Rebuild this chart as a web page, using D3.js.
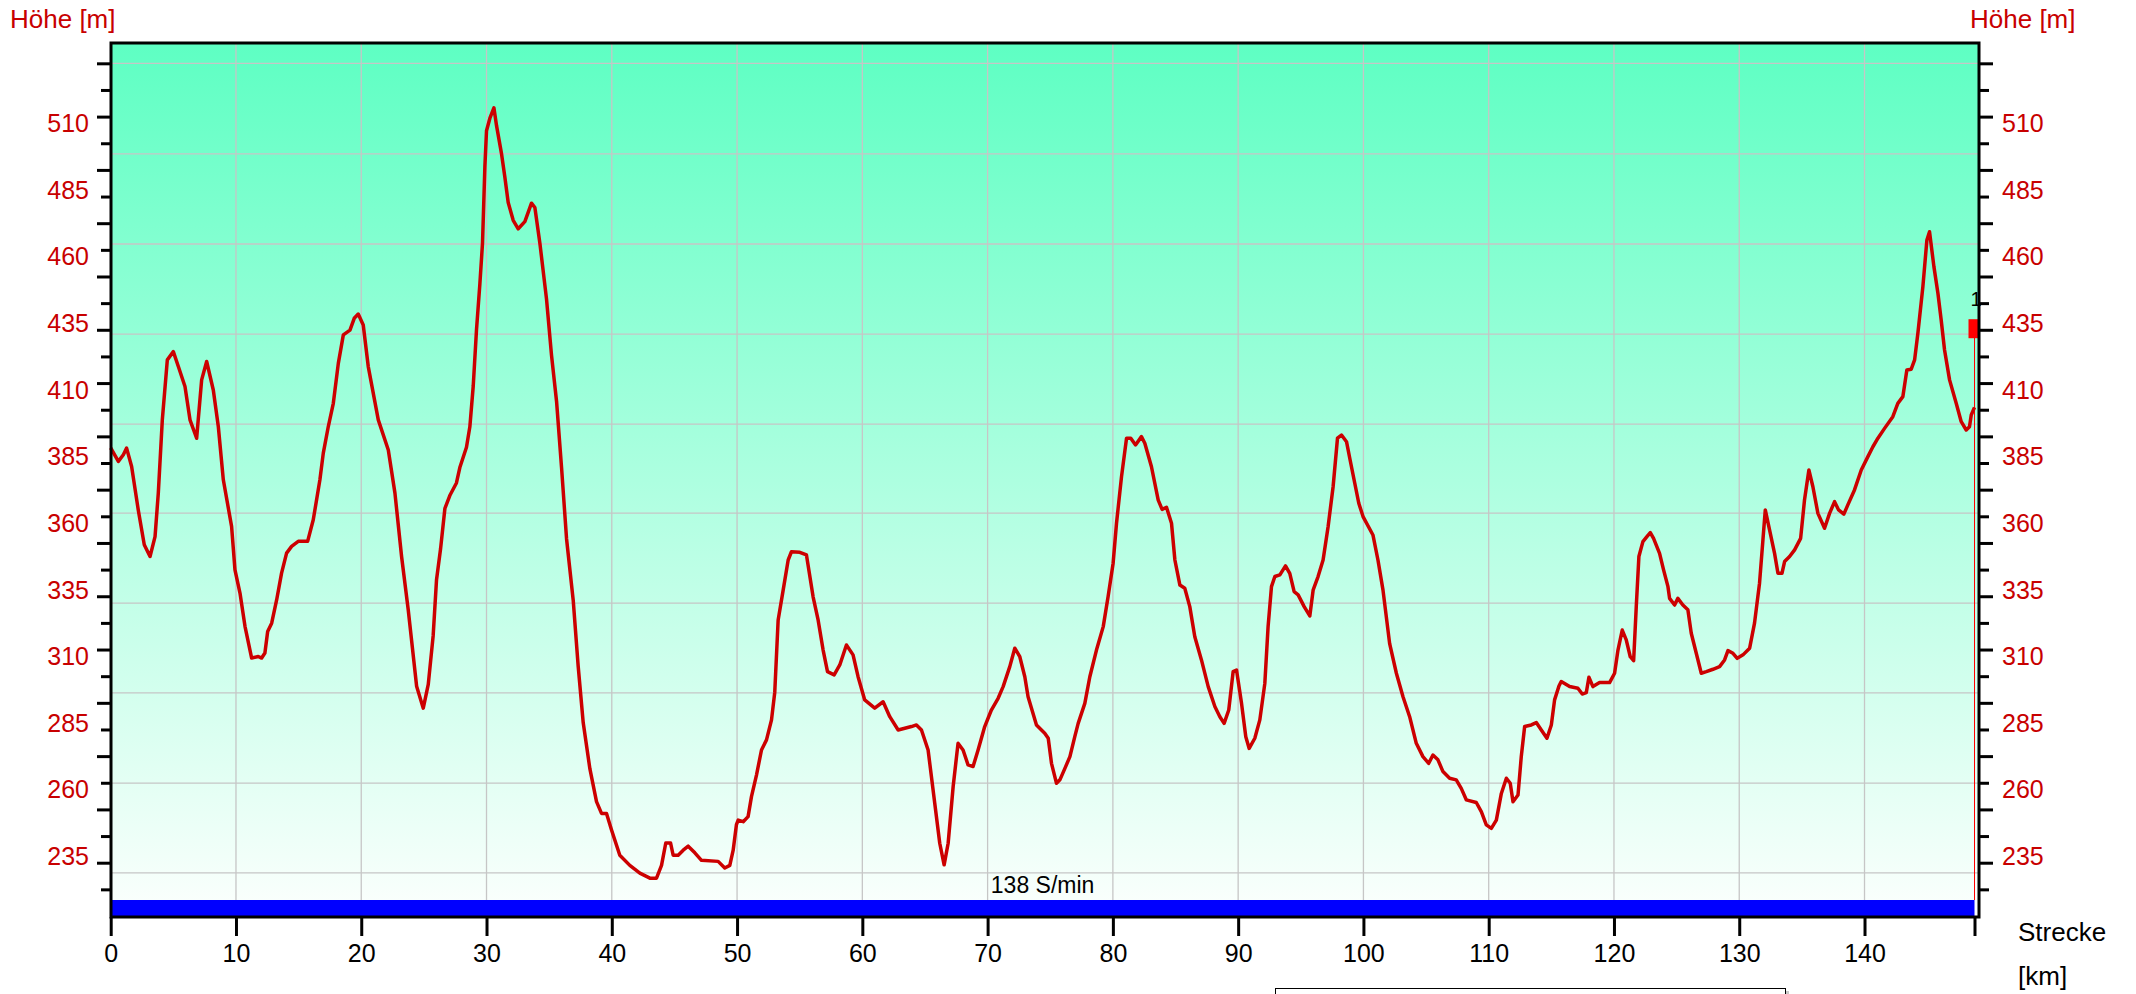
<!DOCTYPE html>
<html>
<head>
<meta charset="utf-8">
<script src="https://cdn.jsdelivr.net/npm/d3@7"></script>
<style>
  body { margin: 0; background: #fff; }
  svg { display: block; font-family: "Liberation Sans", Arial, Helvetica, sans-serif; }
</style>
</head>
<body>
<svg></svg>
<script>
// track profile: distance [km] and altitude [m]
var distKm = [
  0, 0.61, 1.01, 1.27, 1.67, 2.2, 2.68, 3.14, 3.54, 3.8, 4.12, 4.52, 5.0, 5.4, 5.93, 6.33, 6.86, 7.26, 7.66, 8.19,
  8.59, 8.99, 9.65, 9.92, 10.32, 10.72, 11.25, 11.78, 12.05, 12.31, 12.53, 12.85, 13.25, 13.64, 14.04, 14.44, 14.97, 15.72, 16.17, 16.7,
  16.97, 17.37, 17.77, 18.17, 18.57, 19.1, 19.44, 19.76, 20.16, 20.56, 21.36, 22.16, 22.69, 23.22, 23.75, 24.42, 24.95, 25.35, 25.74, 26.01,
  26.33, 26.68, 27.07, 27.6, 27.87, 28.4, 28.67, 28.94, 29.2, 29.47, 29.68, 29.87, 30.0, 30.27, 30.59, 30.8, 31.2, 31.46, 31.73, 32.13,
  32.53, 33.06, 33.59, 33.86, 34.26, 34.79, 35.19, 35.59, 35.99, 36.39, 36.92, 37.32, 37.72, 38.25, 38.78, 39.18, 39.58, 39.98, 40.64, 41.44,
  42.24, 43.04, 43.57, 43.97, 44.31, 44.69, 44.9, 45.3, 45.7, 46.1, 46.63, 47.16, 48.49, 49.02, 49.42, 49.69, 49.95, 50.09, 50.49, 50.88,
  51.15, 51.55, 51.95, 52.35, 52.75, 53.01, 53.28, 53.68, 54.08, 54.34, 55.01, 55.54, 56.07, 56.47, 56.87, 57.22, 57.75, 58.2, 58.73, 59.26,
  59.66, 60.19, 60.99, 61.66, 62.19, 62.86, 63.92, 64.32, 64.72, 65.25, 65.78, 66.18, 66.53, 66.85, 67.25, 67.64, 68.04, 68.44, 68.84, 69.24,
  69.77, 70.3, 70.84, 71.24, 71.77, 72.17, 72.57, 72.97, 73.23, 73.9, 74.56, 74.84, 75.1, 75.5, 75.77, 76.17, 76.57, 76.96, 77.23, 77.76,
  78.16, 78.69, 79.23, 79.62, 80.02, 80.29, 80.69, 81.09, 81.43, 81.81, 82.28, 82.55, 83.08, 83.62, 83.93, 84.28, 84.68, 84.95, 85.35, 85.74,
  86.14, 86.54, 87.07, 87.61, 88.14, 88.54, 88.88, 89.25, 89.6, 89.87, 90.27, 90.61, 90.88, 91.33, 91.73, 92.13, 92.39, 92.66, 92.93, 93.33,
  93.78, 94.12, 94.47, 94.79, 95.27, 95.72, 95.99, 96.38, 96.78, 97.18, 97.58, 97.93, 98.25, 98.65, 98.91, 99.31, 99.63, 99.97, 100.76, 101.16,
  101.56, 102.09, 102.63, 103.16, 103.69, 104.22, 104.75, 105.21, 105.55, 105.95, 106.35, 106.88, 107.41, 107.81, 108.21, 109.01, 109.41, 109.81, 110.21, 110.61,
  111.01, 111.41, 111.72, 111.94, 112.34, 112.6, 112.87, 113.4, 113.8, 114.2, 114.65, 115.0, 115.26, 115.61, 115.79, 116.46, 117.12, 117.47, 117.79, 118.0,
  118.32, 118.85, 119.65, 120.05, 120.32, 120.66, 120.98, 121.3, 121.57, 121.78, 121.99, 122.31, 122.63, 122.9, 123.16, 123.64, 123.96, 124.31, 124.44, 124.84,
  125.1, 125.5, 125.9, 126.17, 126.57, 126.97, 127.37, 127.9, 128.43, 128.83, 129.1, 129.5, 129.84, 130.3, 130.83, 131.22, 131.62, 131.89, 132.08, 132.42,
  132.82, 133.09, 133.41, 133.62, 134.02, 134.42, 134.9, 135.21, 135.56, 135.88, 136.28, 136.81, 137.21, 137.61, 137.93, 138.35, 138.67, 139.2, 139.74, 140.27,
  140.67, 141.07, 141.6, 142.26, 142.66, 143.06, 143.38, 143.73, 144.0, 144.26, 144.66, 144.98, 145.19, 145.54, 145.86, 146.12, 146.39, 146.79, 147.32, 147.72,
  148.12, 148.38, 148.52, 148.78
];
var elevM = [
  388, 382.9, 385.4, 387.9, 381, 364.7, 351.6, 347.2, 354.7, 371, 398.5, 421, 424.1, 418.5, 411, 398.5, 391.6, 413.5, 420.4, 409.7,
  396, 376, 358.5, 342.2, 333.5, 321, 309.1, 309.7, 309.1, 311, 319.1, 322.2, 331, 341, 348.5, 351, 352.9, 352.9, 361, 376,
  386, 396, 404.7, 419.7, 430.4, 432.2, 436.6, 438.2, 434.1, 418.5, 398.5, 387.2, 371, 347.2, 327.2, 298.5, 290.3, 299.2, 317.4, 338.5,
  350, 365.3, 370.1, 374.8, 380.6, 388.2, 395.9, 411.2, 432.3, 449.5, 464.8, 493.6, 507, 511.7, 515.6, 508.9, 498.3, 489.7, 480.1, 473.4,
  470.2, 472.9, 479.8, 478.2, 464.8, 443.8, 422.7, 405.5, 380.6, 353.8, 330.8, 305.9, 284.8, 267.6, 255.2, 250.8, 250.8, 244.6, 235.1, 231.3,
  228.4, 226.5, 226.5, 231.3, 239.7, 239.7, 235.1, 235.1, 237, 238.5, 236, 233.2, 232.8, 230.3, 231.3, 237, 246.6, 248.3, 247.7, 249.6,
  257.1, 265.2, 274.6, 278.4, 285.9, 296.3, 323.4, 334.6, 345.9, 349, 348.8, 347.8, 332.1, 323.4, 312.1, 304, 302.8, 306.5, 314, 310.3,
  302.1, 293.4, 290.3, 292.7, 287.1, 282.1, 283.4, 284, 282.1, 274.6, 254.6, 239.6, 231.5, 239.6, 260.9, 277.1, 274.6, 269, 268.4, 274.6,
  283.4, 289.6, 294, 298.4, 305.9, 312.8, 309.6, 302.1, 294.6, 284, 280.9, 279, 269.6, 262.1, 263.4, 267.7, 272.1, 279.6, 284.6, 292.1,
  302.1, 312.1, 320.9, 332.2, 344.7, 359.7, 377.2, 391.6, 391.6, 389.1, 392.2, 389.7, 380.9, 368.4, 364.9, 365.7, 359.7, 345.9, 336.5, 335.3,
  328.4, 317.1, 308.4, 298.4, 290.9, 287.1, 284.6, 289.6, 304, 304.6, 292.1, 279.6, 275.2, 279, 285.9, 299.6, 320.9, 335.9, 339.7, 340.3,
  343.7, 340.9, 334, 332.8, 328.4, 324.9, 334.7, 339.7, 345.9, 358.4, 373.4, 391.6, 392.8, 390.3, 384.1, 374.7, 367.2, 362.2, 355.3, 345.9,
  334.7, 314.6, 303.4, 294.6, 287.1, 277.1, 272.1, 269.6, 272.7, 270.9, 266.5, 264, 263.4, 260.2, 255.9, 254.9, 251.5, 246.5, 245.2, 248.3,
  258.3, 264, 262.1, 255.2, 257.7, 272.1, 283.4, 284, 284.9, 282.1, 279, 284, 293.4, 298.6, 300.3, 298.4, 297.8, 295.6, 296.1, 301.9,
  298.4, 299.9, 299.9, 303.4, 312.1, 319.6, 315.9, 309.6, 308.1, 328.4, 347.2, 352.8, 354.7, 356.2, 354, 348.4, 342.2, 335.9, 331.5, 329,
  331.5, 329, 327.2, 318.4, 310.9, 303.4, 304, 304.9, 305.9, 308.4, 311.9, 310.9, 309, 310.3, 312.8, 322.2, 337.2, 353.4, 364.7, 357.2,
  348.4, 340.9, 340.9, 345.3, 347.2, 349.7, 354, 368.4, 379.7, 373.4, 363.4, 357.8, 363.4, 367.8, 364.7, 363.1, 366.6, 372.2, 379.7, 384.7,
  388.4, 391.6, 395.3, 399.7, 404.7, 407.2, 417.2, 417.5, 421, 431, 448.5, 466, 469.1, 456, 446, 436, 424.7, 413.5, 404.7, 397.8,
  394.7, 395.9, 400.3, 403.2
];

var xTickKm = [0, 10, 20, 30, 40, 50, 60, 70, 80, 90, 100, 110, 120, 130, 140];
var yLabels = [235, 260, 285, 310, 335, 360, 385, 410, 435, 460, 485, 510];
var yMinorTicks = [222.3, 232.3, 242.3, 252.3, 262.3, 272.3, 282.3, 292.3, 302.3, 312.3, 322.3, 332.3, 342.3, 352.3, 362.3, 372.3,
  382.3, 392.3, 402.3, 412.3, 422.3, 432.3, 442.3, 452.3, 462.3, 472.3, 482.3, 492.3, 502.3, 512.3, 522.3, 532.3];
var yGrid = [228.5, 262.2, 296.0, 329.7, 363.5, 396.9, 430.7, 464.5, 498.3, 532.3];
var cadenceText = "138 S/min";
var lapLabel = "1";
var lapLevel = 432.7;

var width = 2136;
var height = 994;
var plotL = 111, plotR = 1979, plotT = 43, plotB = 917;
var red = "#c80000";

var endKm = d3.max(distKm);

var xScale = d3.scaleLinear()
  .domain([0, endKm])
  .range([110.7, 1974.5]);

var yScale = d3.scaleLinear()
  .domain([212.3, 540.3])
  .range([916, 42]);

var svg = d3.select('svg')
  .attr('width', width)
  .attr('height', height);

var grad = svg.append('defs').append('linearGradient')
  .attr('id', 'bg')
  .attr('x1', 0).attr('y1', 0).attr('x2', 0).attr('y2', 1);
grad.append('stop').attr('offset', '0%').attr('stop-color', '#5effc3');
grad.append('stop').attr('offset', '100%').attr('stop-color', '#fcfffd');

svg.append('rect')
  .attr('x', plotL).attr('y', plotT)
  .attr('width', plotR - plotL).attr('height', plotB - plotT)
  .attr('fill', 'url(#bg)');

// grid
svg.append('g')
  .selectAll('line')
  .data(yGrid)
  .enter()
  .append('line')
    .attr('x1', plotL).attr('x2', plotR)
    .attr('y1', d => yScale(d)).attr('y2', d => yScale(d))
    .attr('stroke', '#c6c6c6')
    .attr('stroke-width', 1.3);

svg.append('g')
  .selectAll('line')
  .data(xTickKm.slice(1))
  .enter()
  .append('line')
    .attr('x1', d => xScale(d)).attr('x2', d => xScale(d))
    .attr('y1', plotT).attr('y2', plotB)
    .attr('stroke', '#c6c6c6')
    .attr('stroke-width', 1.3);

// cadence band
svg.append('rect')
  .attr('x', xScale(0))
  .attr('y', 900)
  .attr('width', xScale(endKm) - xScale(0))
  .attr('height', 16)
  .attr('fill', '#0000ff');

svg.append('text')
  .attr('x', (xScale(0) + xScale(endKm)) / 2)
  .attr('y', 893)
  .style('text-anchor', 'middle')
  .style('font-size', '23px')
  .attr('fill', '#000')
  .text(cadenceText);

// lap marker
svg.append('line')
  .attr('x1', xScale(endKm)).attr('x2', xScale(endKm))
  .attr('y1', yScale(lapLevel)).attr('y2', 900)
  .attr('stroke', '#ff0000')
  .attr('stroke-width', 1);

svg.append('rect')
  .attr('x', xScale(endKm) - 6)
  .attr('y', yScale(lapLevel) - 9.5)
  .attr('width', 11)
  .attr('height', 19)
  .attr('fill', '#ff0000');

svg.append('text')
  .attr('x', xScale(endKm) - 4)
  .attr('y', yScale(lapLevel) - 23)
  .style('font-size', '20px')
  .attr('fill', '#000')
  .text(lapLabel);

// profile
var line = d3.line()
  .x((d, i) => xScale(distKm[i]))
  .y(d => yScale(d));

svg.append('path')
  .datum(elevM)
  .attr('d', line)
  .attr('fill', 'none')
  .attr('stroke', '#cc0000')
  .attr('stroke-width', 3.5)
  .attr('stroke-linejoin', 'round');

// frame
svg.append('rect')
  .attr('x', plotL).attr('y', plotT)
  .attr('width', plotR - plotL).attr('height', plotB - plotT)
  .attr('fill', 'none')
  .attr('stroke', '#000')
  .attr('stroke-width', 3);

// y ticks, long every 20 m and short in between
function yTicks(axisFn, x, vals, size) {
  var g = svg.append('g')
    .attr('transform', 'translate(' + x + ',0)')
    .call(axisFn(yScale).tickValues(vals).tickSize(size).tickFormat(''));
  g.select('.domain').remove();
  g.selectAll('line').attr('stroke-width', 3);
}
var longTicks = yMinorTicks.filter((d, i) => (yMinorTicks.length - 1 - i) % 2 === 0);
var shortTicks = yMinorTicks.filter((d, i) => (yMinorTicks.length - 1 - i) % 2 === 1);
yTicks(d3.axisLeft, plotL, longTicks, 14);
yTicks(d3.axisLeft, plotL, shortTicks, 10);
yTicks(d3.axisRight, plotR, longTicks, 14);
yTicks(d3.axisRight, plotR, shortTicks, 10);

// y labels
var yLeft = svg.append('g')
  .attr('transform', 'translate(' + plotL + ',0)')
  .call(d3.axisLeft(yScale).tickValues(yLabels).tickSize(0).tickPadding(22));
var yRight = svg.append('g')
  .attr('transform', 'translate(' + plotR + ',0)')
  .call(d3.axisRight(yScale).tickValues(yLabels).tickSize(0).tickPadding(23));
[yLeft, yRight].forEach(function (g) {
  g.select('.domain').remove();
  g.selectAll('text')
    .attr('dy', '0.36em')
    .style('font-size', '25px')
    .style('font-family', '"Liberation Sans", Arial, sans-serif')
    .attr('fill', red);
});

// x axis
var xAxis = svg.append('g')
  .attr('transform', 'translate(0,' + plotB + ')')
  .call(d3.axisBottom(xScale)
    .tickValues(xTickKm.concat([endKm]))
    .tickFormat(d => d === endKm ? '' : d)
    .tickSize(19)
    .tickPadding(8));
xAxis.select('.domain').remove();
xAxis.selectAll('line').attr('stroke-width', 3);
xAxis.selectAll('text')
  .style('font-size', '25px')
  .style('font-family', '"Liberation Sans", Arial, sans-serif')
  .attr('fill', '#000');

// axis titles
svg.append('text')
  .attr('x', 10).attr('y', 28)
  .style('font-size', '26px')
  .attr('fill', red)
  .text('Höhe [m]');

svg.append('text')
  .attr('x', 1970).attr('y', 28)
  .style('font-size', '26px')
  .attr('fill', red)
  .text('Höhe [m]');

svg.append('text')
  .attr('x', 2018).attr('y', 941)
  .style('font-size', '26px')
  .attr('fill', '#000')
  .text('Strecke');

svg.append('text')
  .attr('x', 2018).attr('y', 985)
  .style('font-size', '26px')
  .attr('fill', '#000')
  .text('[km]');

// box peeking in at the bottom
svg.append('rect')
  .attr('x', 1279).attr('y', 991)
  .attr('width', 510).attr('height', 20)
  .attr('fill', '#c8c8c8');
svg.append('rect')
  .attr('x', 1275.5).attr('y', 988.5)
  .attr('width', 510).attr('height', 20)
  .attr('fill', '#fff')
  .attr('stroke', '#000')
  .attr('stroke-width', 1);
</script>
</body>
</html>
